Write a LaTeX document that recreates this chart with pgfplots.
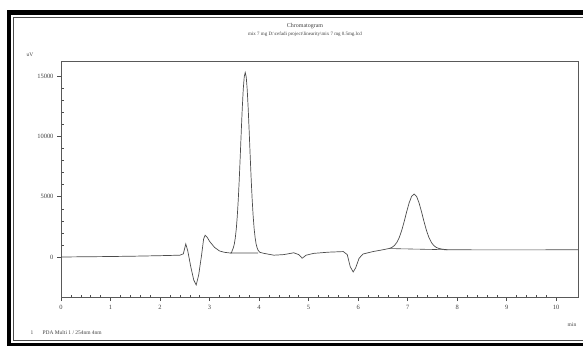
\documentclass[border=0pt]{standalone}
\usepackage{pgfplots}
\pgfplotsset{compat=1.18}
\usepackage{fontspec}
\setmainfont{Liberation Serif}
\begin{document}
\begin{tikzpicture}[x=1bp,y=1bp]
\useasboundingbox (-61,-48) rectangle (522,297);
\begin{axis}[
  at={(0,0)}, anchor=south west,
  scale only axis, width=517bp, height=236bp,
  xmin=0, xmax=10.44, ymin=-3317, ymax=16252,
  xtick={0,1,...,10}, ytick={0,5000,10000,15000},
  scaled ticks=false,
  xtick pos=left, ytick pos=left,
  minor x tick num=4, minor y tick num=4,
  tick align=outside,
  major tick length=4bp, minor tick length=2.5bp,
  minor x tick style={yshift=2.5bp},
  minor y tick style={xshift=2.5bp},
  tick style={black!70, line width=0.5bp},
  axis line style={black!65, line width=0.6bp},
  /pgf/number format/assume math mode=true,
  /pgf/number format/set thousands separator={},
  ticklabel style={font=\fontsize{6.5}{7}\selectfont, text=black!75},
  xticklabel style={yshift=-1bp},
  yticklabel style={xshift=0bp},
  clip=true,
]
\addplot[black!70, line width=0.7bp] coordinates {
(0,0) (0.5,20) (1,40) (1.5,70) (2,110) (2.4,150) (2.47,260) (2.52,1080) (2.56,500)
(2.62,-800) (2.68,-1900) (2.73,-2320) (2.78,-1500) (2.84,200) (2.88,1500) (2.91,1800)
(2.95,1650) (3.0,1300) (3.1,800) (3.2,500) (3.3,390) (3.4,340) (3.44,335)
(3.46,555) (3.48,764) (3.50,1080) (3.52,1600) (3.54,2350) (3.56,3410) (3.58,4790)
(3.60,6480) (3.62,8400) (3.64,10420) (3.66,12320) (3.68,13890) (3.70,14940) (3.72,15300)
(3.74,14940) (3.76,13890) (3.78,12320) (3.80,10420) (3.82,8400) (3.84,6480) (3.86,4790)
(3.88,3410) (3.90,2350) (3.92,1600) (3.94,1080) (3.96,764) (3.98,555) (4.02,380)
(4.1,300) (4.3,150) (4.5,200) (4.7,350) (4.8,200) (4.87,-100) (4.95,150) (5.1,300)
(5.4,400) (5.7,450) (5.78,200) (5.84,-800) (5.9,-1240) (5.95,-900) (6.02,-100)
(6.1,250) (6.3,450) (6.5,600) (6.63,710) (6.68,790) (6.73,940) (6.78,1200) (6.83,1610)
(6.88,2200) (6.93,2940) (6.98,3750) (7.03,4490) (7.08,5030) (7.13,5220) (7.18,5030)
(7.23,4490) (7.28,3750) (7.33,2940) (7.38,2200) (7.43,1610) (7.48,1200) (7.53,940)
(7.58,790) (7.63,710) (7.70,650) (7.80,600) (8.5,590) (9.5,590) (10.44,600)
};
\addplot[black!70, line width=0.6bp] coordinates {(3.42,335) (3.98,330)};
\addplot[black!70, line width=0.6bp] coordinates {(6.63,700) (7.80,600)};
\end{axis}
\draw[black, line width=4.5bp] (-52,284.5) rectangle (529,-48);
\draw[black!70, line width=0.6bp] (-47.5,280) rectangle (524,-43);
\node[font=\fontsize{5.5}{6}\selectfont, text=black!75] at (-31,242) {uV};
\node[font=\fontsize{5.5}{6}\selectfont, text=black!75] at (511,-28) {min};
\node[font=\fontsize{6}{7}\selectfont, text=black!75] at (244,271) {Chromatogram};
\node[font=\fontsize{5}{6}\selectfont, text=black!75] at (244,262.5) {mix 7 mg D:\textbackslash{}cefadi project\textbackslash{}linearity\textbackslash{}mix 7 mg 0.5mg.lcd};
\node[font=\fontsize{5.5}{6}\selectfont, text=black!75, anchor=west] at (-34,-36) {1};
\node[font=\fontsize{5.5}{6}\selectfont, text=black!75, anchor=west] at (-22,-36) {PDA Multi 1 / 254nm 4nm};
\end{tikzpicture}
\end{document}
